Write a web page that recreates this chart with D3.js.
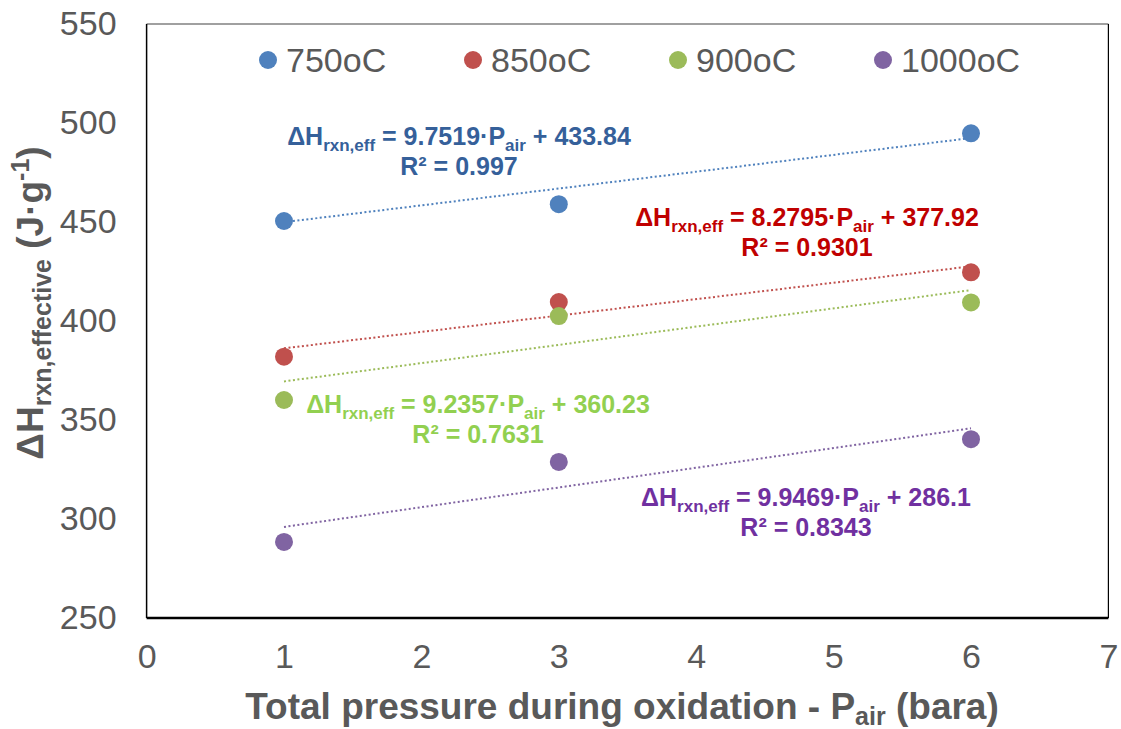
<!DOCTYPE html>
<html lang="en">
<head>
<meta charset="utf-8" />
<title>Effective reaction enthalpy vs pressure</title>
<script src="https://cdn.jsdelivr.net/npm/d3@7"></script>
<style>
  body { margin: 0; background: #fff; }
  text { font-family: "Liberation Sans", Arial, sans-serif; }
</style>
</head>
<body>
<div id="chart"></div>
<script>
    // series
    let series = ['750oC', '850oC', '900oC', '1000oC'];
    let pressures = [1, 3, 6];
    let values750 = [450.5, 459, 494.8];
    let values850 = [382.0, 409.6, 424.6];
    let values900 = [360.1, 402.5, 409.4];
    let values1000 = [288.4, 328.8, 340.3];
    // trend lines (value at P=1 and P=6, as drawn)
    let trendStart = [449.9, 386.2, 369.5, 296.0];
    let trendEnd = [492.4, 427.6, 415.6, 345.8];
    let eqCoef = ['9.7519', '8.2795', '9.2357', '9.9469'];
    let eqConst = ['433.84', '377.92', '360.23', '286.1'];
    let eqR2 = ['0.997', '0.9301', '0.7631', '0.8343'];
    let xTicks = [0, 1, 2, 3, 4, 5, 6, 7];
    let yTicks = [250, 300, 350, 400, 450, 500, 550];

    let markerColors = ['#4F81BD', '#C0504D', '#9BBB59', '#8064A2'];
    let labelColors = ['#35609A', '#C00000', '#92D050', '#7030A0'];
    // label anchors: [centre x, baseline of first line]
    let labelPos = [[459, 145], [807, 226], [478, 413], [806, 506]];

    let allValues = [values750, values850, values900, values1000];

    let margin = { top: 24, bottom: 111, left: 146.6, right: 12.6 };
    let W = 1121, H = 729;
    let width = W - margin.left - margin.right,
        height = H - margin.top - margin.bottom;

    let svg = d3.select('#chart').append('svg')
        .attr('width', W)
        .attr('height', H);

    let x = d3.scaleLinear().domain([0, 7]).range([0, width]);
    let y = d3.scaleLinear().domain([250, 550]).range([height, 0]);

    let g = svg.append('g')
        .attr('transform', 'translate(' + margin.left + ',' + margin.top + ')');

    // frame
    g.append('line').attr('x1', 0).attr('x2', width).attr('y1', 0).attr('y2', 0)
        .attr('stroke', '#808080').attr('stroke-width', 1.5);
    g.append('line').attr('x1', width).attr('x2', width).attr('y1', 0).attr('y2', height)
        .attr('stroke', '#000').attr('stroke-width', 1.2);
    g.append('line').attr('x1', 0).attr('x2', 0).attr('y1', 0).attr('y2', height)
        .attr('stroke', '#000').attr('stroke-width', 1.5);
    g.append('line').attr('x1', 0).attr('x2', width).attr('y1', height).attr('y2', height)
        .attr('stroke', '#000').attr('stroke-width', 2.5);

    // axes (labels only)
    let yAxis = d3.axisLeft(y).tickValues(yTicks).tickSize(0).tickPadding(30).tickFormat(d3.format('d'));
    let xAxis = d3.axisBottom(x).tickValues(xTicks).tickSize(0).tickPadding(26).tickFormat(d3.format('d'));

    let gy = g.append('g').call(yAxis);
    let gx = g.append('g').attr('transform', 'translate(0,' + height + ')').call(xAxis);
    [gy, gx].forEach(a => {
        a.select('.domain').remove();
        a.selectAll('text')
            .attr('font-family', '"Liberation Sans", Arial, sans-serif')
            .attr('font-size', 34)
            .attr('fill', '#595959');
    });

    // trend lines
    g.selectAll('.trend')
        .data(series)
        .enter().append('line')
        .attr('class', 'trend')
        .attr('x1', x(1))
        .attr('x2', x(6))
        .attr('y1', (d, i) => y(trendStart[i]))
        .attr('y2', (d, i) => y(trendEnd[i]))
        .attr('stroke', (d, i) => markerColors[i])
        .attr('stroke-width', 2)
        .attr('stroke-dasharray', '2,2.5');

    // markers
    series.forEach((s, i) => {
        g.selectAll('.dot' + i)
            .data(allValues[i])
            .enter().append('circle')
            .attr('class', 'dot' + i)
            .attr('cx', (d, j) => x(pressures[j]))
            .attr('cy', d => y(d))
            .attr('r', 9)
            .style('fill', markerColors[i]);
    });

    // legend
    let legend = svg.append('g');
    series.forEach((s, i) => {
        let lx = 268 + i * 205;
        legend.append('circle')
            .attr('cx', lx).attr('cy', 60).attr('r', 9)
            .style('fill', markerColors[i]);
        legend.append('text')
            .attr('x', lx + 18).attr('y', 72)
            .attr('font-size', 34)
            .attr('fill', '#595959')
            .text(s);
    });

    // trend line equations
    series.forEach((s, i) => {
        let t = svg.append('text')
            .attr('x', labelPos[i][0]).attr('y', labelPos[i][1])
            .attr('text-anchor', 'middle')
            .attr('font-size', 25)
            .attr('font-weight', 'bold')
            .attr('fill', labelColors[i]);
        t.append('tspan').text('ΔH');
        t.append('tspan').attr('font-size', 17).attr('dy', 6).text('rxn,eff');
        t.append('tspan').attr('dy', -6).text(' = ' + eqCoef[i] + '·P');
        t.append('tspan').attr('font-size', 17).attr('dy', 6).text('air');
        t.append('tspan').attr('dy', -6).text(' + ' + eqConst[i]);

        svg.append('text')
            .attr('x', labelPos[i][0]).attr('y', labelPos[i][1] + 30)
            .attr('text-anchor', 'middle')
            .attr('font-size', 25)
            .attr('font-weight', 'bold')
            .attr('fill', labelColors[i])
            .text('R² = ' + eqR2[i]);
    });

    // axis titles
    let xt = svg.append('text')
        .attr('x', 622).attr('y', 719)
        .attr('text-anchor', 'middle')
        .attr('font-size', 37)
        .attr('font-weight', 'bold')
        .attr('fill', '#595959');
    xt.append('tspan').text('Total pressure during oxidation - P');
    xt.append('tspan').attr('font-size', 25).attr('dy', 6).text('air');
    xt.append('tspan').attr('dy', -6).text(' (bara)');

    let yt = svg.append('text')
        .attr('transform', 'translate(43,303) rotate(-90)')
        .attr('text-anchor', 'middle')
        .attr('font-size', 37)
        .attr('font-weight', 'bold')
        .attr('fill', '#595959');
    yt.append('tspan').text('ΔH');
    yt.append('tspan').attr('font-size', 25).attr('dy', 8).text('rxn,effective');
    yt.append('tspan').attr('dy', -8).text(' (J·g');
    yt.append('tspan').attr('font-size', 25).attr('dy', -14).text('-1');
    yt.append('tspan').attr('dy', 14).text(')');
</script>
</body>
</html>
